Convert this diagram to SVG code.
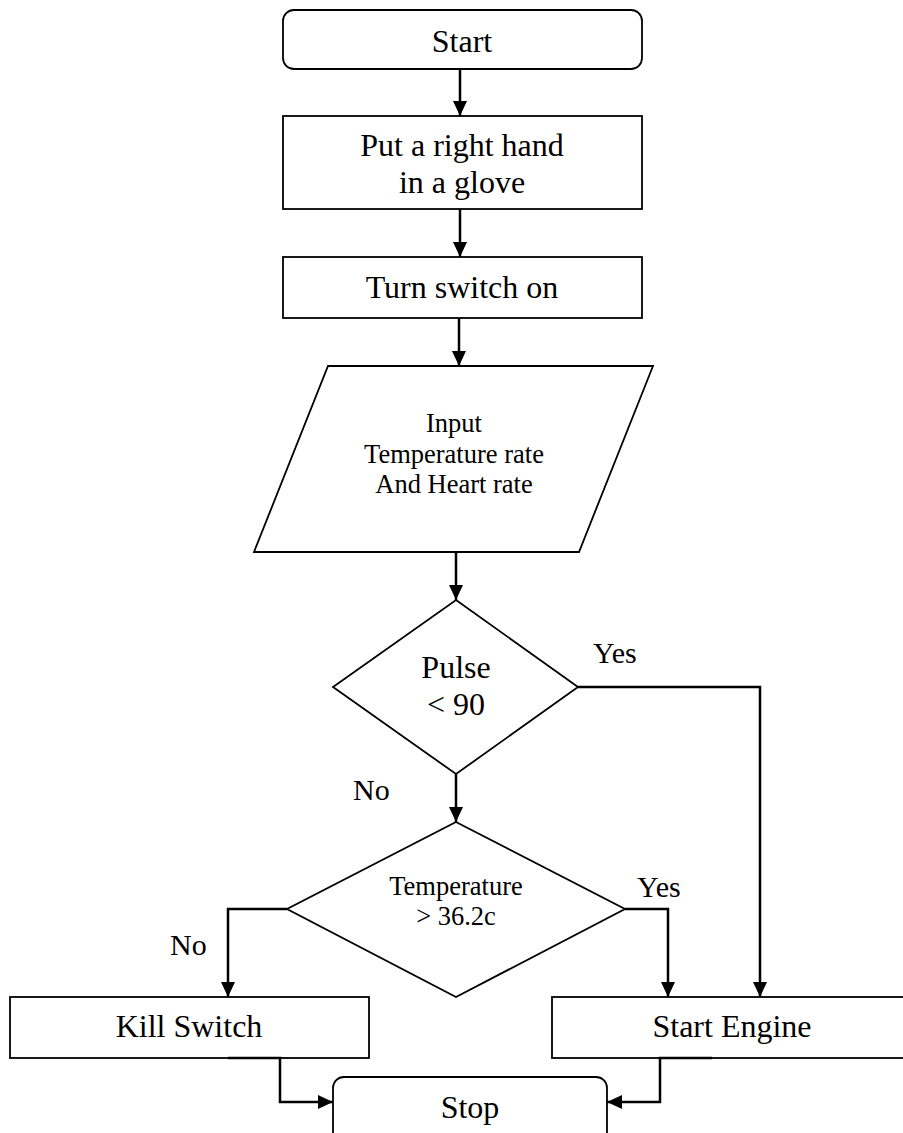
<svg xmlns="http://www.w3.org/2000/svg" width="903" height="1133" viewBox="0 0 903 1133">
<style>
.shape{fill:#fff;stroke:#000;stroke-width:1.8}
.conn{fill:none;stroke:#000;stroke-width:2.5}
text{font-family:"Liberation Serif","Times New Roman",serif;fill:#000;text-anchor:middle}
.big{font-size:32px}
.small{font-size:26.5px}
.lbl{font-size:30px;text-anchor:start}
</style>
<defs>
<marker id="arr" viewBox="0 0 15 14" refX="15" refY="7" markerWidth="15" markerHeight="14" markerUnits="userSpaceOnUse" orient="auto">
<path d="M0,0 L15,7 L0,14 z" fill="#000"/>
</marker>
</defs>
<rect width="903" height="1133" fill="#fff"/>
<g id="start"><rect class="shape" x="283" y="10" width="359" height="59" rx="11"/><text class="big" x="462" y="52">Start</text></g>
<g id="glove"><rect class="shape" x="283" y="116" width="359" height="93"/><text class="big" x="462" y="156">Put a right hand</text><text class="big" x="462" y="193">in a glove</text></g>
<g id="switch"><rect class="shape" x="283" y="257" width="359" height="61"/><text class="big" x="462" y="298">Turn switch on</text></g>
<g id="input"><polygon class="shape" points="328,366 653,366 579,552 254,552"/><text class="small" x="454" y="432">Input</text><text class="small" x="454" y="463">Temperature rate</text><text class="small" x="454" y="493">And Heart rate</text></g>
<g id="pulse"><polygon class="shape" points="456,600 578,687 456,774 333,687"/><text class="big" x="456" y="678">Pulse</text><text class="big" x="456" y="715">&lt; 90</text></g>
<g id="temp"><polygon class="shape" points="456,822 625,909 456,997 287,909"/><text class="small" x="456" y="895">Temperature</text><text class="small" x="456" y="925">&gt; 36.2c</text></g>
<g id="kill"><rect class="shape" x="10" y="997" width="359" height="61"/><text class="big" x="189" y="1037">Kill Switch</text></g>
<g id="engine"><rect class="shape" x="552" y="997" width="360" height="61"/><text class="big" x="732" y="1037">Start Engine</text></g>
<g id="stop"><rect class="shape" x="333" y="1077" width="274" height="70" rx="11"/><text class="big" x="470" y="1118">Stop</text></g>
<g id="connectors">
<path class="conn" d="M460,69 V116" marker-end="url(#arr)"/>
<path class="conn" d="M460,209 V257" marker-end="url(#arr)"/>
<path class="conn" d="M459,318 V366" marker-end="url(#arr)"/>
<path class="conn" d="M456,552 V600" marker-end="url(#arr)"/>
<path class="conn" d="M456,774 V822" marker-end="url(#arr)"/>
<path class="conn" d="M578,687 H760 V997" marker-end="url(#arr)"/>
<path class="conn" d="M625,909 H668 V997" marker-end="url(#arr)"/>
<path class="conn" d="M287,909 H228 V997" marker-end="url(#arr)"/>
<path class="conn" d="M228,1058 H280 V1102 H333" marker-end="url(#arr)"/>
<path class="conn" d="M712,1058 H660 V1102 H607" marker-end="url(#arr)"/>
</g>
<g id="labels">
<text class="lbl" x="593" y="663">Yes</text>
<text class="lbl" x="353" y="800">No</text>
<text class="lbl" x="637" y="897">Yes</text>
<text class="lbl" x="170" y="955">No</text>
</g>
</svg>
